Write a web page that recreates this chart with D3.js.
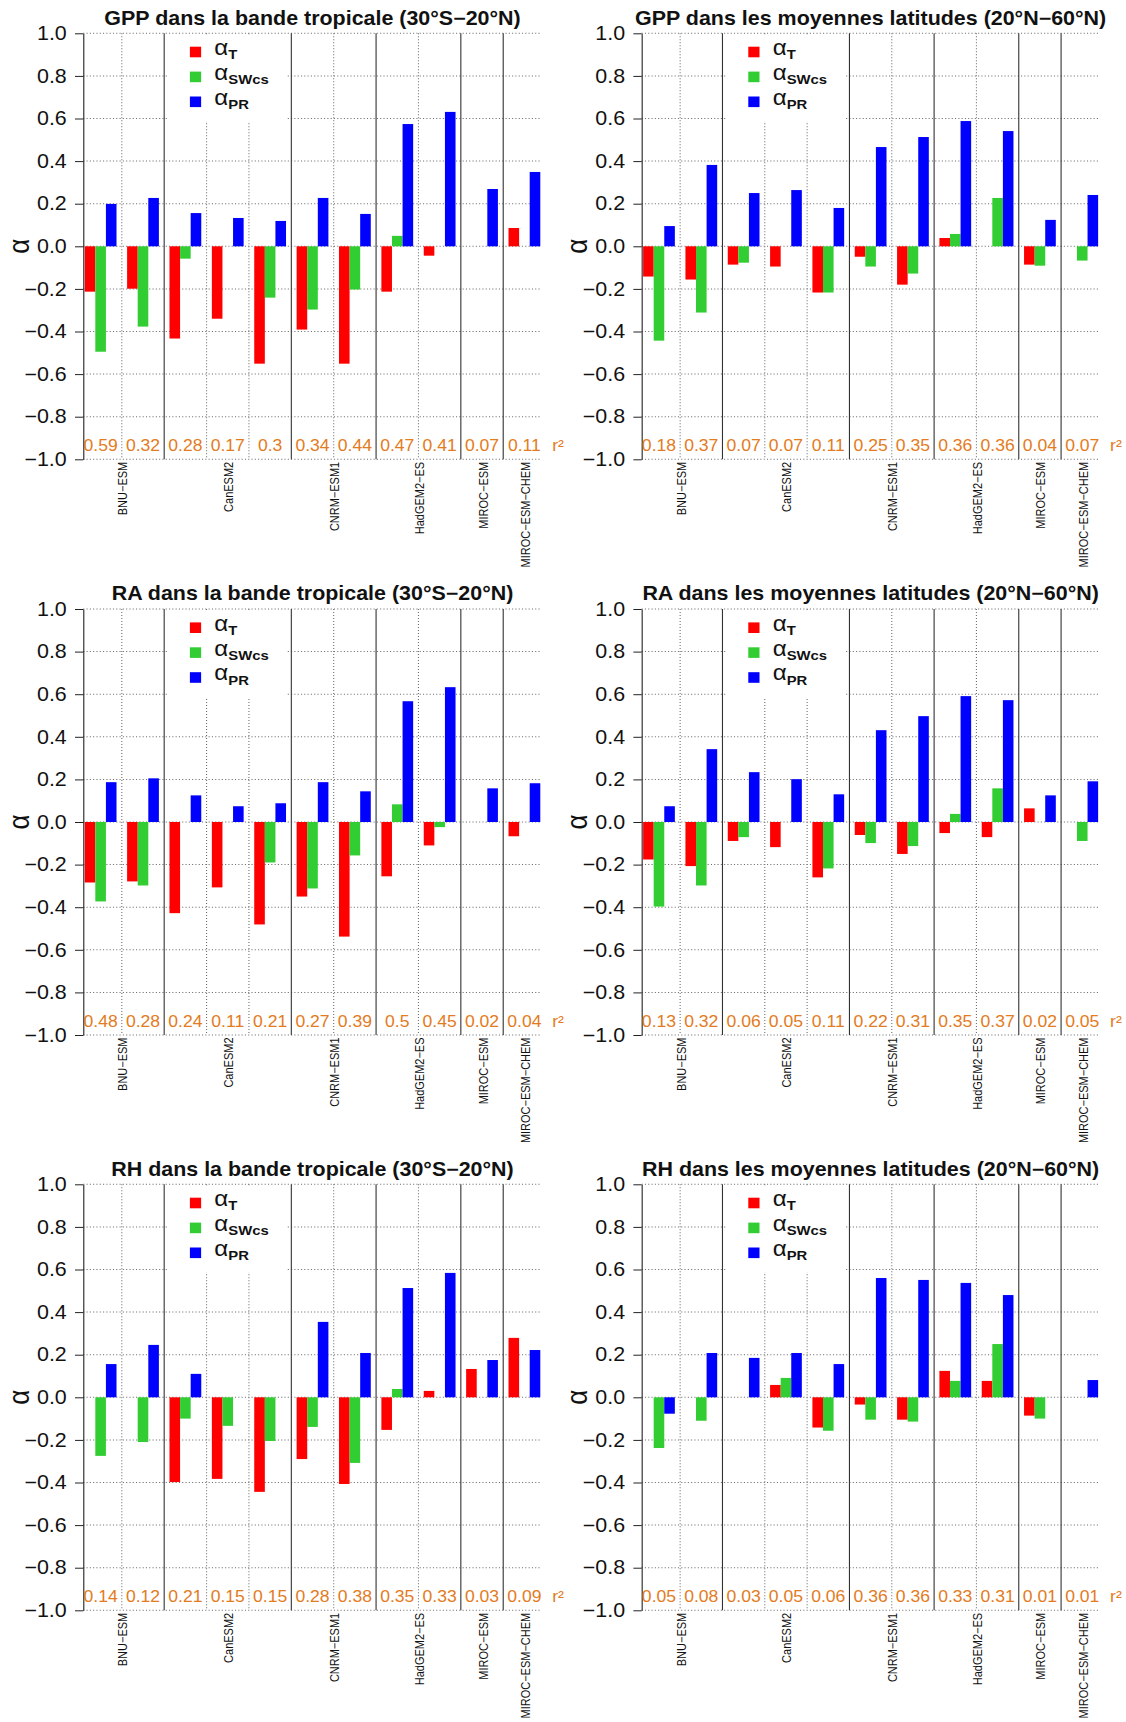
<!DOCTYPE html>
<html><head><meta charset="utf-8">
<script src="https://cdn.jsdelivr.net/npm/d3@7"></script>
<style>
html,body{margin:0;padding:0;background:#fff;}
text{font-family:"Liberation Sans",Arial,sans-serif;}
</style></head>
<body>
<svg id="chart" width="1126" height="1722"></svg>
<script>
// ---------- data ----------
const models = ["BNU\u2212ESM","CanESM2","CNRM\u2212ESM1","HadGEM2\u2212ES","MIROC\u2212ESM","MIROC\u2212ESM\u2212CHEM"];
const modelRuns = [2,3,2,2,1,1];
const yTicks = [-1.0,-0.8,-0.6,-0.4,-0.2,0.0,0.2,0.4,0.6,0.8,1.0];
const seriesNames = ["T","SWcs","PR"];
const seriesColors = ["#ff0000","#32cd32","#0000ff"];
const r2Color = "#e37b22";

const titles = [
  "GPP dans la bande tropicale (30°S\u221220°N)",
  "GPP dans les moyennes latitudes (20°N\u221260°N)",
  "RA dans la bande tropicale (30°S\u221220°N)",
  "RA dans les moyennes latitudes (20°N\u221260°N)",
  "RH dans la bande tropicale (30°S\u221220°N)",
  "RH dans les moyennes latitudes (20°N\u221260°N)"
];

const gppTropT  = [-0.213,-0.199,-0.433,-0.340,-0.551,-0.391,-0.551,-0.213,-0.044,0,0.086];
const gppTropSW = [-0.495,-0.377,-0.058,0,-0.241,-0.297,-0.203,0.049,0,0,0];
const gppTropPR = [0.199,0.227,0.156,0.133,0.119,0.227,0.152,0.574,0.631,0.269,0.349];
const gppTropR2 = [0.59,0.32,0.28,0.17,0.3,0.34,0.44,0.47,0.41,0.07,0.11];

const gppMidT  = [-0.142,-0.156,-0.086,-0.095,-0.217,-0.049,-0.180,0.039,0,-0.086,0];
const gppMidSW = [-0.443,-0.311,-0.077,0,-0.217,-0.095,-0.128,0.058,0.227,-0.091,-0.067];
const gppMidPR = [0.095,0.382,0.250,0.264,0.180,0.466,0.513,0.588,0.541,0.124,0.241];
const gppMidR2 = [0.18,0.37,0.07,0.07,0.11,0.25,0.35,0.36,0.36,0.04,0.07];

const raTropT  = [-0.284,-0.279,-0.428,-0.307,-0.481,-0.350,-0.538,-0.255,-0.110,0,-0.067];
const raTropSW = [-0.373,-0.298,0,0,-0.190,-0.312,-0.157,0.083,-0.024,0,0];
const raTropPR = [0.187,0.205,0.125,0.074,0.088,0.187,0.144,0.567,0.633,0.158,0.182];
const raTropR2 = [0.48,0.28,0.24,0.11,0.21,0.27,0.39,0.5,0.45,0.02,0.04];

const raMidT  = [-0.176,-0.207,-0.089,-0.118,-0.260,-0.061,-0.150,-0.052,-0.071,0.064,0];
const raMidSW = [-0.397,-0.298,-0.071,0,-0.218,-0.099,-0.113,0.038,0.158,0,-0.089];
const raMidPR = [0.074,0.342,0.234,0.201,0.130,0.431,0.497,0.591,0.572,0.125,0.191];
const raMidR2 = [0.13,0.32,0.06,0.05,0.11,0.22,0.31,0.35,0.37,0.02,0.05];

const rhTropT  = [0,0,-0.398,-0.383,-0.444,-0.290,-0.407,-0.153,0.030,0.133,0.279];
const rhTropSW = [-0.275,-0.210,-0.100,-0.134,-0.205,-0.139,-0.308,0.039,0,0,0];
const rhTropPR = [0.156,0.246,0.110,0,0,0.354,0.208,0.513,0.584,0.175,0.222];
const rhTropR2 = [0.14,0.12,0.21,0.15,0.15,0.28,0.38,0.35,0.33,0.03,0.09];

const rhMidT  = [0,0,0,0.058,-0.142,-0.034,-0.105,0.124,0.077,-0.086,0];
const rhMidSW = [-0.238,-0.110,0,0.091,-0.157,-0.105,-0.114,0.077,0.250,-0.100,0];
const rhMidPR = [-0.077,0.208,0.185,0.208,0.156,0.560,0.551,0.537,0.480,0,0.081];
const rhMidR2 = [0.05,0.08,0.03,0.05,0.06,0.36,0.36,0.33,0.31,0.01,0.01];

const panelData = [
  [gppTropT,gppTropSW,gppTropPR,gppTropR2],
  [gppMidT,gppMidSW,gppMidPR,gppMidR2],
  [raTropT,raTropSW,raTropPR,raTropR2],
  [raMidT,raMidSW,raMidPR,raMidR2],
  [rhTropT,rhTropSW,rhTropPR,rhTropR2],
  [rhMidT,rhMidSW,rhMidPR,rhMidR2]
];

// ---------- layout ----------
const STRETCH = 1126/1024;
const cols = [{L:75.7,R:492.7},{L:583.5,R:1000.0}];
const rowTops = [33.3, 609.0, 1184.3];
const plotH = 426;

const svg = d3.select("#chart");
svg.append("rect").attr("width",1126).attr("height",1722).attr("fill","#fff");
const root = svg.append("g").attr("transform",`scale(${STRETCH},1)`);

const groupModel = [];
modelRuns.forEach((n,m)=>{for(let i=0;i<n;i++) groupModel.push(m);});
const nGroups = groupModel.length;

panelData.forEach((pd,pi)=>{
  const col = cols[pi%2];
  const top = rowTops[Math.floor(pi/2)];
  const bottom = top + plotH;
  const x = d3.scaleLinear().domain([0.36, 4*nGroups-0.36]).range([col.L, col.R]);
  const y = d3.scaleLinear().domain([-1,1]).range([bottom, top]);
  const g = root.append("g");

  // horizontal dotted grid
  g.selectAll(".hg").data(yTicks).join("line")
    .attr("x1",col.L).attr("x2",col.R)
    .attr("y1",d=>y(d)).attr("y2",d=>y(d))
    .attr("stroke","#707070").attr("stroke-width",1).attr("stroke-dasharray","1,2");

  // vertical separators
  const seps = d3.range(1,nGroups).map(k=>({u:4*k, solid: groupModel[k]!==groupModel[k-1]}));
  g.selectAll(".vs").data(seps).join("line")
    .attr("x1",d=>x(d.u)).attr("x2",d=>x(d.u))
    .attr("y1",top).attr("y2",bottom)
    .attr("stroke",d=>d.solid?"#333":"#707070")
    .attr("stroke-width",1)
    .attr("stroke-dasharray",d=>d.solid?null:"1,2");

  // legend background
  g.append("rect").attr("x",col.L+77.3).attr("y",top+2.7)
    .attr("width",107.3).attr("height",85.5).attr("fill","#fff");

  // bars
  const bars = [];
  for(let s=0;s<3;s++) pd[s].forEach((v,k)=>{ if(v!==0) bars.push({s,k,v}); });
  g.selectAll(".bar").data(bars).join("rect")
    .attr("x",d=>x(4*d.k+0.5+d.s))
    .attr("width",d=>x(4*d.k+1.5+d.s)-x(4*d.k+0.5+d.s))
    .attr("y",d=>y(Math.max(0,d.v)))
    .attr("height",d=>Math.abs(y(d.v)-y(0)))
    .attr("fill",d=>seriesColors[d.s]);

  // y axis
  const ax = g.append("g").attr("transform",`translate(${col.L},0)`)
    .call(d3.axisLeft(y).tickValues(yTicks).tickFormat(d3.format(".1f"))
      .tickSize(7.5).tickSizeOuter(0).tickPadding(7.5));
  ax.select(".domain").attr("stroke","#222");
  ax.selectAll(".tick line").attr("stroke","#222");
  ax.selectAll(".tick text").attr("font-size",19.5).attr("fill","#111")
    .attr("font-family","Liberation Sans, Arial, sans-serif");

  // y label
  g.append("text").attr("transform",`translate(${col.L-49.7},${y(0)}) rotate(-90)`)
    .attr("text-anchor","middle").attr("font-size",26).attr("fill","#111").text("\u03b1");

  // title
  g.append("text").attr("x",(col.L+col.R)/2).attr("y",top-8.5)
    .attr("text-anchor","middle").attr("font-size",19.5).attr("font-weight","bold")
    .attr("fill","#111").text(titles[pi]);

  // legend
  seriesNames.forEach((nm,s)=>{
    const cy = top + 18.7 + s*24.9;
    g.append("rect").attr("x",col.L+97).attr("y",cy-5.3).attr("width",10.2).attr("height",10.6)
      .attr("fill",seriesColors[s]);
    const t = g.append("text").attr("x",col.L+119.2).attr("y",cy+3).attr("fill","#111");
    t.append("tspan").attr("font-size",22).text("\u03b1");
    t.append("tspan").attr("font-size",13.5).attr("font-weight","bold").attr("dy",4.5).text(nm);
  });

  // r2 values
  g.selectAll(".r2").data(pd[3]).join("text")
    .attr("x",(d,k)=>x(4*k+2)).attr("y",bottom-8)
    .attr("text-anchor","middle").attr("font-size",16).attr("fill",r2Color)
    .text(d=>String(d));
  g.append("text").attr("x",col.R+9.5).attr("y",bottom-8)
    .attr("font-size",16).attr("fill",r2Color).text("r\u00b2");

  // model labels
  let gi = 0;
  models.forEach((m,mi)=>{
    const n = modelRuns[mi];
    const centers = d3.range(gi,gi+n).map(k=>4*k+2);
    gi += n;
    const pos = x(d3.mean(centers));
    g.append("text").attr("transform",`translate(${pos+5},${bottom+2.5}) rotate(-90)`)
      .attr("text-anchor","end").attr("font-size",11).attr("fill","#111").text(m);
  });
});
</script>
</body></html>
